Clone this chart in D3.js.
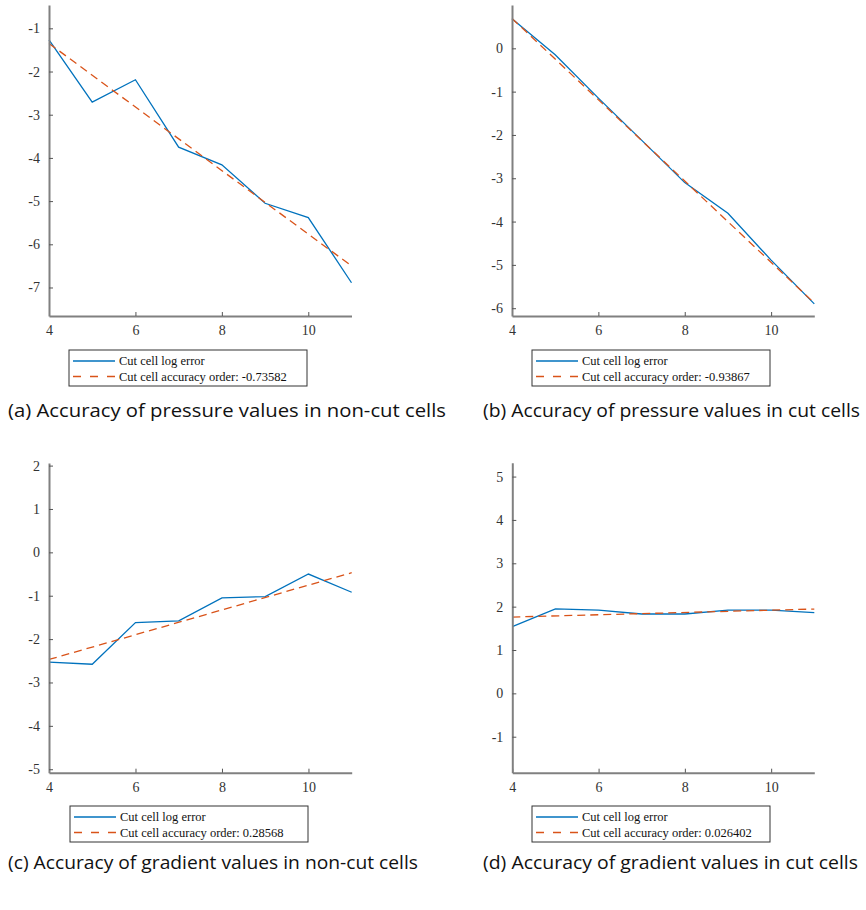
<!DOCTYPE html>
<html><head><meta charset="utf-8">
<script src="https://cdn.jsdelivr.net/npm/d3@7"></script>
<style>body{margin:0;background:#fff}svg{display:block}</style>
</head><body>
<script>
// ---- data ----
const xValues = [4, 5, 6, 7, 8, 9, 10, 11];
const xTicks = [4, 6, 8, 10];

const errA = [-1.27, -2.71, -2.19, -3.75, -4.16, -5.05, -5.38, -6.89];
const errB = [0.68, -0.15, -1.15, -2.12, -3.10, -3.81, -4.89, -5.90];
const errC = [-2.53, -2.58, -1.62, -1.58, -1.05, -1.02, -0.50, -0.92];
const errD = [1.54, 1.95, 1.92, 1.83, 1.83, 1.92, 1.92, 1.86];

const fitA = [-1.35, -6.50];
const fitB = [0.69, -5.88];
const fitC = [-2.47, -0.47];
const fitD = [1.76, 1.945];

const orderLabels = ["-0.73582", "-0.93867", "0.28568", "0.026402"];

const yTicksA = [-7, -6, -5, -4, -3, -2, -1];
const yTicksB = [-6, -5, -4, -3, -2, -1, 0];
const yTicksC = [-5, -4, -3, -2, -1, 0, 1, 2];
const yTicksD = [-1, 0, 1, 2, 3, 4, 5];

const yDomA = [-7.66, -0.46];
const yDomB = [-6.18, 1.0];
const yDomC = [-5.08, 2.06];
const yDomD = [-1.83, 5.32];

const captions = [
  "(a) Accuracy of pressure values in non-cut cells",
  "(b) Accuracy of pressure values in cut cells",
  "(c) Accuracy of gradient values in non-cut cells",
  "(d) Accuracy of gradient values in cut cells"
];
const legendLabel = "Cut cell log error";
const legendPrefix = "Cut cell accuracy order: ";

// ---- layout ----
const W = 866, H = 910;
const panels = [
  {err: errA, fit: fitA, yt: yTicksA, yd: yDomA, x0: 49, x1: 351.5, y0: 5, y1: 316, leg: [69, 350], cap: [8, 417, 438]},
  {err: errB, fit: fitB, yt: yTicksB, yd: yDomB, x0: 512, x1: 814.3, y0: 5, y1: 316, leg: [532, 350], cap: [483, 417, 377]},
  {err: errC, fit: fitC, yt: yTicksC, yd: yDomC, x0: 49, x1: 351.7, y0: 463, y1: 772.7, leg: [70, 806], cap: [8, 869, 410]},
  {err: errD, fit: fitD, yt: yTicksD, yd: yDomD, x0: 512.3, x1: 814.3, y0: 462.7, y1: 772.7, leg: [532, 806], cap: [483, 869, 375]}
];
const blue = "#0072BD", red = "#D95319", axisCol = "#808080";
const serif = "'Liberation Serif', 'Times New Roman', serif";

const svg = d3.select("body").append("svg").attr("width", W).attr("height", H);

panels.forEach((p, i) => {
  const x = d3.scaleLinear().domain([4, 11]).range([p.x0, p.x1]);
  const y = d3.scaleLinear().domain(p.yd).range([p.y1, p.y0]);
  const g = svg.append("g");

  // lines
  const line = d3.line().x((d, k) => x(xValues[k])).y(d => y(d));
  g.append("path").datum(p.err).attr("d", line)
    .attr("fill", "none").attr("stroke", blue).attr("stroke-width", 1.3);
  const fitLine = d3.line().x(d => x(d[0])).y(d => y(d[1]));
  g.append("path").datum([[4, p.fit[0]], [11, p.fit[1]]]).attr("d", fitLine)
    .attr("fill", "none").attr("stroke", red).attr("stroke-width", 1.3)
    .attr("stroke-dasharray", "8,5");

  // axes
  const xAxis = d3.axisBottom(x).tickValues(xTicks).tickSize(-4).tickSizeOuter(0).tickPadding(9)
    .tickFormat(d3.format("d"));
  const yAxis = d3.axisLeft(y).tickValues(p.yt).tickSize(-4).tickSizeOuter(0).tickPadding(9)
    .tickFormat(d3.format("d"));
  const gx = g.append("g").attr("transform", `translate(0,${p.y1})`).call(xAxis);
  const gy = g.append("g").attr("transform", `translate(${p.x0},0)`).call(yAxis);
  [gx, gy].forEach(a => {
    a.select(".domain").attr("stroke", axisCol).attr("stroke-width", 2);
    a.selectAll(".tick line").attr("stroke", "#555").attr("stroke-width", 1);
    a.selectAll(".tick text").attr("fill", "#333").style("font-family", serif).style("font-size", "14px");
  });
  gy.selectAll(".tick text").text(d => d < 0 ? "-" + Math.abs(d) : d);

  // legend
  const [lx, ly] = p.leg;
  const lg = g.append("g").attr("transform", `translate(${lx},${ly})`);
  lg.append("rect").attr("width", 238).attr("height", 36)
    .attr("fill", "#fff").attr("stroke", "#333").attr("stroke-width", 1);
  lg.append("line").attr("x1", 4).attr("x2", 46).attr("y1", 11).attr("y2", 11)
    .attr("stroke", blue).attr("stroke-width", 1.3);
  lg.append("line").attr("x1", 4).attr("x2", 46).attr("y1", 26.5).attr("y2", 26.5)
    .attr("stroke", red).attr("stroke-width", 1.3).attr("stroke-dasharray", "8,9");
  lg.append("text").attr("x", 50).attr("y", 15).text(legendLabel)
    .style("font-family", serif).style("font-size", "12.5px").attr("fill", "#111");
  lg.append("text").attr("x", 50).attr("y", 30.5).text(legendPrefix + orderLabels[i])
    .style("font-family", serif).style("font-size", "12.5px").attr("fill", "#111");

  // caption
  svg.append("text").attr("x", p.cap[0]).attr("y", p.cap[1]).text(captions[i])
    .attr("textLength", p.cap[2]).attr("lengthAdjust", "spacingAndGlyphs")
    .style("font-family", "'Open Sans', Lato, sans-serif").style("font-size", "18px").attr("fill", "#111");
});
</script>
</body></html>
